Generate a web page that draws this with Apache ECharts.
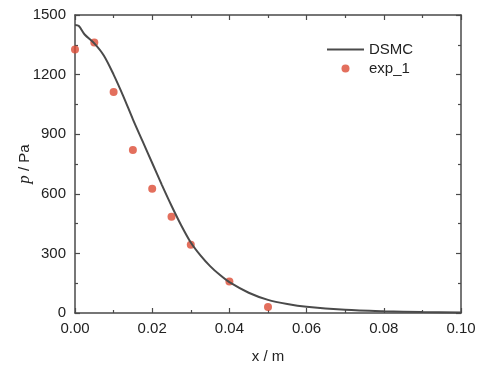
<!DOCTYPE html>
<html>
<head>
<meta charset="utf-8">
<script src="https://cdn.jsdelivr.net/npm/echarts@6/dist/echarts.min.js"></script>
<style>html,body{margin:0;padding:0;background:#fff;}#c{width:486px;height:368px;}</style>
</head>
<body>
<div id="c"></div>
<script>
var dsmcX = [0, 0.001, 0.0025, 0.005, 0.0075, 0.01, 0.0125, 0.015, 0.0175, 0.02, 0.0225, 0.025, 0.0275, 0.03, 0.0325, 0.035, 0.0375, 0.04, 0.045, 0.05, 0.055, 0.06, 0.07, 0.08, 0.09, 0.1];
var dsmcP = [1450, 1445, 1402, 1357, 1295, 1200, 1092, 975, 865, 755, 645, 540, 442, 355, 290, 236, 192, 155, 102, 66, 45, 31, 16, 9, 5, 3];
var expX = [0, 0.005, 0.01, 0.015, 0.02, 0.025, 0.03, 0.04, 0.05];
var expP = [1326, 1362, 1113, 820, 625, 485, 343, 159, 30];
var xTicks = [0, 0.02, 0.04, 0.06, 0.08, 0.10];
var yTicks = [0, 300, 600, 900, 1200, 1500];

var axisColor = '#4a4a4a';
var font = 'Liberation Sans, Arial, sans-serif';

function mkX(pos, show) {
  return {
    type: 'value', position: pos, min: 0, max: 0.1, interval: 0.02,
    axisLine: {show: true, onZero: false, lineStyle: {color: axisColor, width: 1.5}},
    axisTick: {show: true, inside: true, length: 5, lineStyle: {color: axisColor, width: 1.2}},
    minorTick: {show: true, splitNumber: 2, length: 3, lineStyle: {color: axisColor, width: 1.2}},
    splitLine: {show: false},
    axisLabel: {show: show, color: '#222', fontSize: 15, fontFamily: font, margin: 8,
      formatter: function (v) { return Number(v).toFixed(2); }},
    name: show ? 'x / m' : '', nameLocation: 'middle', nameGap: 36, nameMoveOverlap: false,
    nameTextStyle: {color: '#222', fontSize: 15, fontFamily: font}
  };
}
function mkY(pos, show) {
  return {
    type: 'value', position: pos, min: 0, max: 1500, interval: 300,
    axisLine: {show: true, onZero: false, lineStyle: {color: axisColor, width: 1.5}},
    axisTick: {show: true, inside: true, length: 5, lineStyle: {color: axisColor, width: 1.2}},
    minorTick: {show: true, splitNumber: 2, length: 3, lineStyle: {color: axisColor, width: 1.2}},
    splitLine: {show: false},
    axisLabel: {show: show, color: '#222', fontSize: 15, fontFamily: font, margin: 9,
      formatter: function (v) { return String(Math.round(v)); }},
    name: show ? '{i|p} / Pa' : '', nameLocation: 'middle', nameGap: 42, nameRotate: 90,
    nameMoveOverlap: false,
    nameTextStyle: {color: '#222', fontSize: 15, fontFamily: font,
      rich: {i: {fontStyle: 'italic', fontFamily: 'Liberation Serif, serif', fontSize: 17, color: '#222'}}}
  };
}

var chart = echarts.init(document.getElementById('c'), null, {renderer: 'canvas'});
chart.setOption({
  backgroundColor: '#fff',
  animation: false,
  grid: {left: 75, right: 25, top: 15, bottom: 55, containLabel: false, outerBoundsMode: 'none'},
  xAxis: [mkX('bottom', true), mkX('top', false)],
  yAxis: [mkY('left', true), mkY('right', false)],
  legend: {
    orient: 'vertical', left: 327, top: 42, padding: 0, itemWidth: 37, itemHeight: 8, itemGap: 4,
    symbolKeepAspect: true,
    textStyle: {color: '#222', fontSize: 15, fontFamily: font},
    data: [
      {name: 'DSMC', icon: 'path://M0,0 L37,0 L37,2 L0,2 Z', itemStyle: {color: '#4a4a4a'}},
      {name: 'exp_1', icon: 'circle'}
    ]
  },
  series: [
    {
      name: 'DSMC', type: 'line', xAxisIndex: 0, yAxisIndex: 0,
      data: dsmcX.map(function (x, i) { return [x, dsmcP[i]]; }),
      showSymbol: false, symbol: 'none', smooth: 0.3,
      lineStyle: {color: '#4a4a4a', width: 2},
      itemStyle: {color: '#4a4a4a'}
    },
    {
      name: 'exp_1', type: 'scatter', xAxisIndex: 0, yAxisIndex: 0,
      data: expX.map(function (x, i) { return [x, expP[i]]; }),
      symbol: 'circle', symbolSize: 8,
      itemStyle: {color: '#dc4b35'}
    }
  ]
});
</script>
</body>
</html>
